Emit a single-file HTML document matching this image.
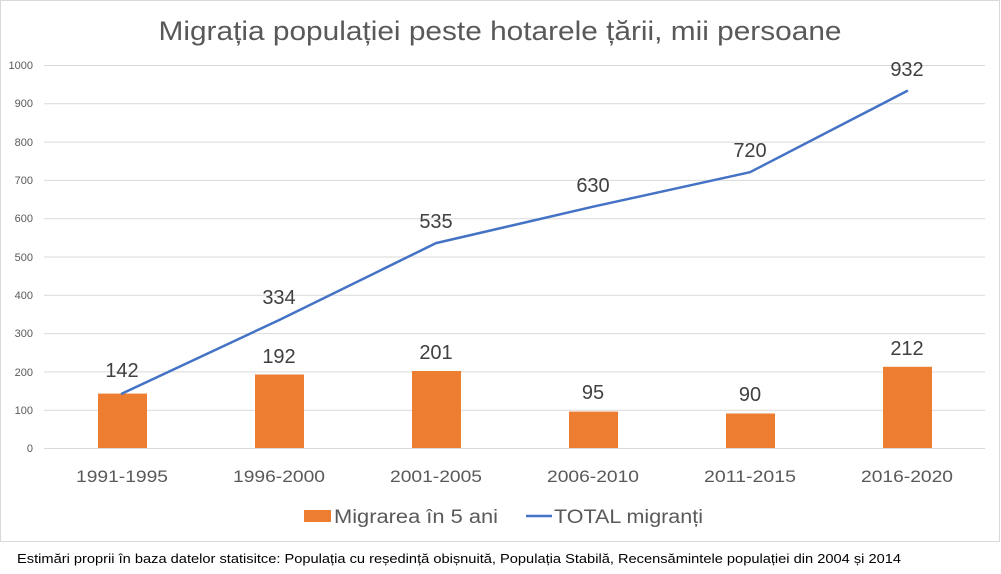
<!DOCTYPE html>
<html><head><meta charset="utf-8"><style>
html,body{margin:0;padding:0;background:#fff;}
svg{display:block;font-family:"Liberation Sans",sans-serif;}
</style></head><body>
<svg width="1001" height="574" viewBox="0 0 1001 574" xmlns="http://www.w3.org/2000/svg">
<rect x="0.5" y="0.5" width="999" height="541" fill="#fff" stroke="#d9d9d9" stroke-width="1"/>
<text x="500" y="40" text-anchor="middle" font-size="27" fill="#595959" textLength="683" lengthAdjust="spacingAndGlyphs">Migrația populației peste hotarele țării, mii persoane</text>
<g stroke="#d9d9d9" stroke-width="1">
<line x1="44" x2="985" y1="448.5" y2="448.5"/>
<line x1="44" x2="985" y1="410.2" y2="410.2"/>
<line x1="44" x2="985" y1="371.9" y2="371.9"/>
<line x1="44" x2="985" y1="333.6" y2="333.6"/>
<line x1="44" x2="985" y1="295.3" y2="295.3"/>
<line x1="44" x2="985" y1="257" y2="257"/>
<line x1="44" x2="985" y1="218.7" y2="218.7"/>
<line x1="44" x2="985" y1="180.4" y2="180.4"/>
<line x1="44" x2="985" y1="142.1" y2="142.1"/>
<line x1="44" x2="985" y1="103.8" y2="103.8"/>
<line x1="44" x2="985" y1="65.5" y2="65.5"/>
</g>
<g font-size="11" fill="#595959" text-anchor="end">
<text x="33" y="452">0</text>
<text x="33" y="414">100</text>
<text x="33" y="376">200</text>
<text x="33" y="337">300</text>
<text x="33" y="299">400</text>
<text x="33" y="261">500</text>
<text x="33" y="222">600</text>
<text x="33" y="184">700</text>
<text x="33" y="146">800</text>
<text x="33" y="107">900</text>
<text x="33" y="69">1000</text>
</g>
<g fill="#ed7d31">
<rect x="98" y="393.6" width="49" height="54.4"/>
<rect x="255" y="374.5" width="49" height="73.5"/>
<rect x="412" y="371" width="49" height="77"/>
<rect x="569" y="411.6" width="49" height="36.4"/>
<rect x="726" y="413.5" width="49" height="34.5"/>
<rect x="883" y="366.8" width="49" height="81.2"/>
</g>
<polyline points="122,393.6 279,320.1 436,243.1 593,206.7 750,172.2 907,91" fill="none" stroke="#4472c4" stroke-width="2.5" stroke-linejoin="round" stroke-linecap="round"/>
<g font-size="20" fill="#404040" text-anchor="middle">
<text x="122" y="377">142</text>
<text x="279" y="363">192</text>
<text x="436" y="359">201</text>
<text x="593" y="399">95</text>
<text x="750" y="401">90</text>
<text x="907" y="355">212</text>
<text x="279" y="304">334</text>
<text x="436" y="228">535</text>
<text x="593" y="192">630</text>
<text x="750" y="157">720</text>
<text x="907" y="76">932</text>
</g>
<g font-size="17" fill="#595959" text-anchor="middle">
<text x="122" y="482" textLength="92" lengthAdjust="spacingAndGlyphs">1991-1995</text>
<text x="279" y="482" textLength="92" lengthAdjust="spacingAndGlyphs">1996-2000</text>
<text x="436" y="482" textLength="92" lengthAdjust="spacingAndGlyphs">2001-2005</text>
<text x="593" y="482" textLength="92" lengthAdjust="spacingAndGlyphs">2006-2010</text>
<text x="750" y="482" textLength="92" lengthAdjust="spacingAndGlyphs">2011-2015</text>
<text x="907" y="482" textLength="92" lengthAdjust="spacingAndGlyphs">2016-2020</text>
</g>
<rect x="304" y="510" width="27" height="12" fill="#ed7d31"/>
<text x="334" y="523" font-size="19" fill="#595959" textLength="164" lengthAdjust="spacingAndGlyphs">Migrarea în 5 ani</text>
<line x1="526" x2="552" y1="516" y2="516" stroke="#4472c4" stroke-width="2.5"/>
<text x="554" y="523" font-size="19" fill="#595959" textLength="149" lengthAdjust="spacingAndGlyphs">TOTAL migranți</text>
<text x="17" y="563" font-size="13" fill="#000" textLength="884" lengthAdjust="spacingAndGlyphs">Estimări proprii  în baza datelor statisitce: Populația cu reședință obișnuită, Populația Stabilă, Recensămintele populației din 2004 și 2014</text>
</svg>
</body></html>
